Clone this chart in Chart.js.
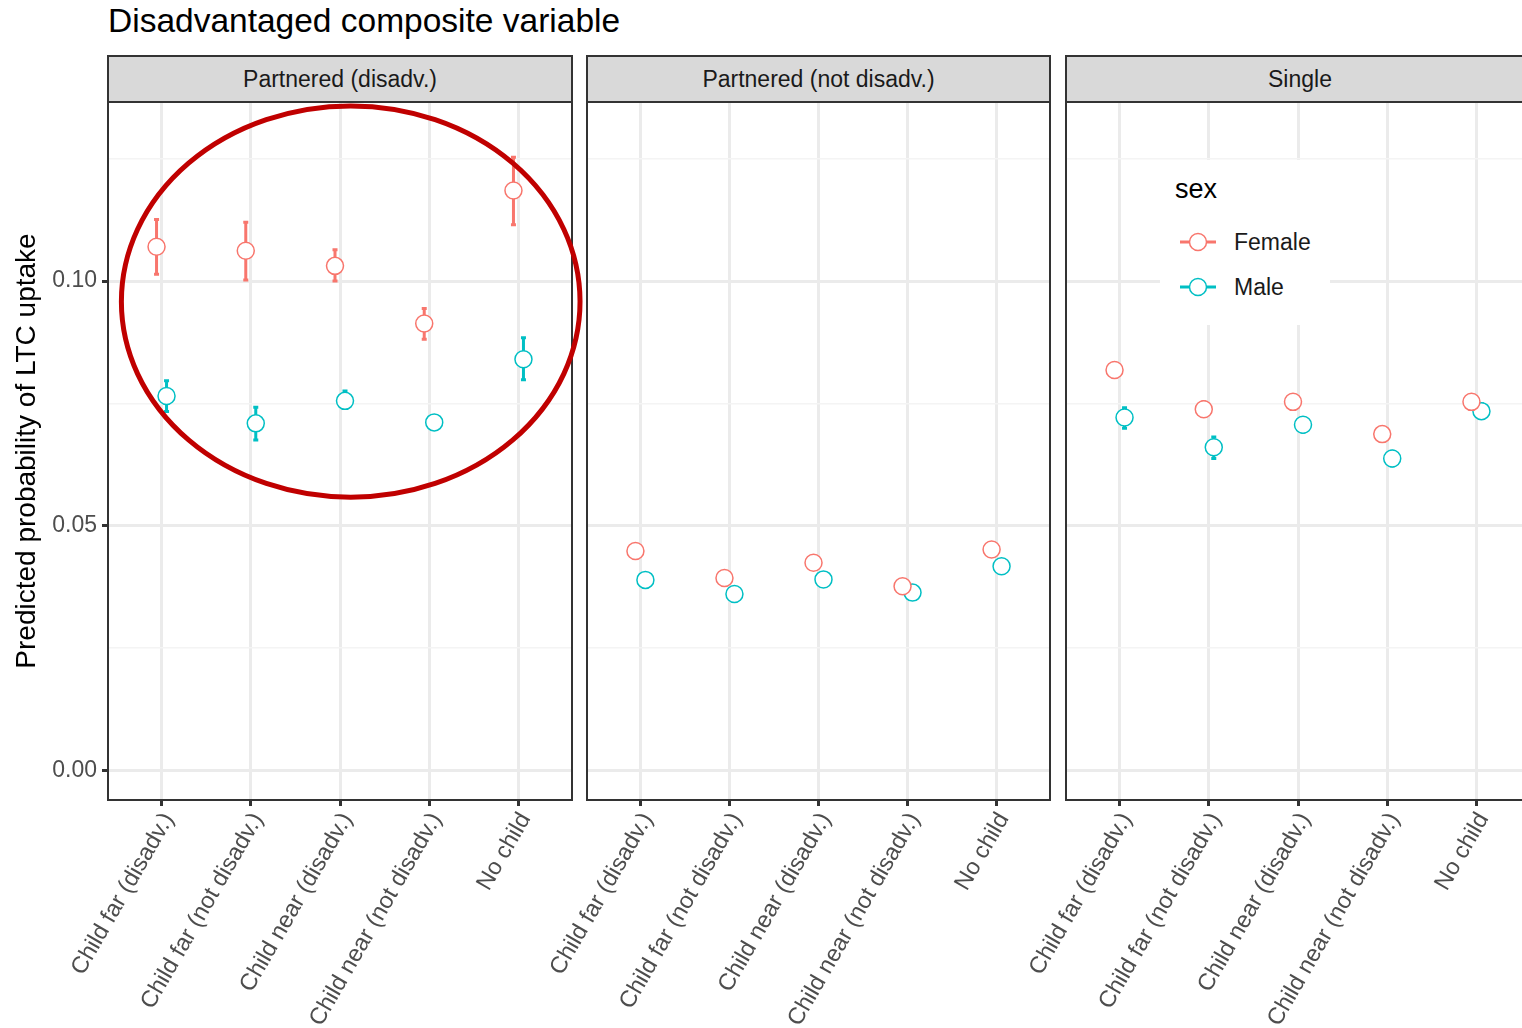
<!DOCTYPE html>
<html>
<head>
<meta charset="utf-8">
<script src="https://cdn.jsdelivr.net/npm/chart.js@4.4.1/dist/chart.umd.min.js"></script>
<style>
  body { margin: 0; width: 1522px; height: 1028px; overflow: hidden; background: #fff;
         position: relative; font-family: "Liberation Sans", Arial, sans-serif; }
  canvas { position: absolute; top: 0; }
  .title { position: absolute; left: 108px; top: 2px; font-size: 33.5px; color: #000; }
  .strip { position: absolute; top: 55px; height: 48px; box-sizing: border-box; background: #d9d9d9;
           border: 2px solid #333; font-size: 23px; color: #1a1a1a; text-align: center; line-height: 44px; }
  .legend { position: absolute; left: 1160px; top: 160px; width: 170px; height: 165px; background: #fff; z-index: 5; }
  .legend .head { position: absolute; left: 15px; top: 14px; font-size: 27px; color: #000; }
  .legend .item { position: absolute; left: 18px; height: 24px; font-size: 23px; color: #1a1a1a; }
  .legend .item svg { position: absolute; left: 0; top: 2px; }
  .legend .item span { position: absolute; left: 56px; top: 0; line-height: 24px; }
</style>
</head>
<body>
<div class="title">Disadvantaged composite variable</div>
<div class="strip" style="left:107px;width:466px">Partnered (disadv.)</div>
<div class="strip" style="left:586px;width:465px">Partnered (not disadv.)</div>
<div class="strip" style="left:1065px;width:470px">Single</div>

<canvas id="p1" width="590" height="1028" style="left:0"></canvas>
<canvas id="p2" width="520" height="1028" style="left:540px"></canvas>
<canvas id="p3" width="530" height="1028" style="left:1019px"></canvas>

<div class="legend">
  <div class="head">sex</div>
  <div class="item" style="top:70px">
    <svg width="40" height="20"><line x1="2" y1="10" x2="38" y2="10" stroke="#F8766D" stroke-width="3"/><circle cx="20" cy="10" r="8.5" fill="#fff" stroke="#F8766D" stroke-width="1.5"/></svg>
    <span>Female</span>
  </div>
  <div class="item" style="top:115px">
    <svg width="40" height="20"><line x1="2" y1="10" x2="38" y2="10" stroke="#00BFC4" stroke-width="3"/><circle cx="20" cy="10" r="8.5" fill="#fff" stroke="#00BFC4" stroke-width="1.5"/></svg>
    <span>Male</span>
  </div>
</div>

<script>
// categorie asse x
const categories = ['Child far (disadv.)', 'Child far (not disadv.)', 'Child near (disadv.)', 'Child near (not disadv.)', 'No child'];
const yTicks = [0, 0.025, 0.05, 0.075, 0.1, 0.125];

// Partnered (disadv.)
const femaleP1 = [0.1070, 0.1062, 0.1031, 0.0913, 0.1185];
const femaleP1Lo = [0.1014, 0.1002, 0.1000, 0.0881, 0.1115];
const femaleP1Hi = [0.1126, 0.1120, 0.1064, 0.0944, 0.1253];
const maleP1 = [0.0765, 0.0709, 0.0755, 0.0711, 0.0840];
const maleP1Lo = [0.0733, 0.0675, 0.0740, 0.0699, 0.0798];
const maleP1Hi = [0.0796, 0.0742, 0.0775, 0.0723, 0.0884];

// Partnered (not disadv.)
const femaleP2 = [0.0448, 0.0393, 0.0424, 0.0376, 0.0451];
const femaleP2Lo = [0.0437, 0.0382, 0.0413, 0.0365, 0.0440];
const femaleP2Hi = [0.0459, 0.0404, 0.0435, 0.0387, 0.0462];
const maleP2 = [0.0389, 0.0360, 0.0390, 0.0363, 0.0417];
const maleP2Lo = [0.0378, 0.0349, 0.0379, 0.0352, 0.0406];
const maleP2Hi = [0.0400, 0.0371, 0.0401, 0.0374, 0.0428];

// Single
const femaleP3 = [0.0818, 0.0738, 0.0753, 0.0687, 0.0753];
const femaleP3Lo = [0.0803, 0.0723, 0.0738, 0.0672, 0.0738];
const femaleP3Hi = [0.0833, 0.0753, 0.0768, 0.0702, 0.0768];
const maleP3 = [0.0721, 0.0660, 0.0706, 0.0637, 0.0734];
const maleP3Lo = [0.0699, 0.0637, 0.0691, 0.0622, 0.0719];
const maleP3Hi = [0.0741, 0.0681, 0.0721, 0.0652, 0.0749];

const FEMALE = '#F8766D';
const MALE = '#00BFC4';
const DODGE = 0.056;
const FONT = '"Liberation Sans", Arial, sans-serif';

// ellisse rossa (coordinate dati del primo pannello)
const ellipse = { x: 3.12, y: 0.0958, rx: 2.57, ry: 0.0400 };

const points = (vals, lo, hi, shift) =>
  vals.map((v, i) => ({ x: i + 1 + shift, y: v, lo: lo[i], hi: hi[i] }));

const isMajor = v => Math.round(v * 1000) % 50 === 0;

const errorBars = {
  id: 'errorBars',
  beforeDatasetsDraw(chart) {
    const { ctx, scales: { x, y } } = chart;
    ctx.save();
    chart.data.datasets.forEach(ds => {
      ctx.strokeStyle = ds.borderColor;
      ctx.lineWidth = 3;
      ds.data.forEach(p => {
        const px = x.getPixelForValue(p.x);
        const top = y.getPixelForValue(p.hi);
        const bot = y.getPixelForValue(p.lo);
        ctx.beginPath();
        ctx.moveTo(px, top); ctx.lineTo(px, bot);
        ctx.moveTo(px - 2.5, top); ctx.lineTo(px + 2.5, top);
        ctx.moveTo(px - 2.5, bot); ctx.lineTo(px + 2.5, bot);
        ctx.stroke();
      });
    });
    ctx.restore();
  }
};

const panelFrame = {
  id: 'panelFrame',
  afterDraw(chart) {
    const { ctx, chartArea: a } = chart;
    ctx.save();
    ctx.strokeStyle = '#333';
    ctx.lineWidth = 2;
    ctx.strokeRect(a.left, a.top, a.right - a.left, a.bottom - a.top);
    ctx.restore();
  }
};

const redEllipse = {
  id: 'redEllipse',
  afterDraw(chart) {
    const { ctx, scales: { x, y } } = chart;
    const cx = x.getPixelForValue(ellipse.x);
    const cy = y.getPixelForValue(ellipse.y);
    const rx = x.getPixelForValue(ellipse.x + ellipse.rx) - cx;
    const ry = cy - y.getPixelForValue(ellipse.y + ellipse.ry);
    ctx.save();
    ctx.strokeStyle = '#C00000';
    ctx.lineWidth = 5;
    ctx.beginPath();
    ctx.ellipse(cx, cy, rx, ry, 0, 0, Math.PI * 2);
    ctx.stroke();
    ctx.restore();
  }
};

function makePanel(id, female, male, opts) {
  const plugins = [errorBars, panelFrame];
  if (opts.ellipse) plugins.push(redEllipse);
  return new Chart(document.getElementById(id), {
    type: 'scatter',
    data: {
      datasets: [
        { label: 'Female', data: female, borderColor: FEMALE, backgroundColor: '#fff' },
        { label: 'Male', data: male, borderColor: MALE, backgroundColor: '#fff' },
      ],
    },
    options: {
      responsive: false,
      animation: false,
      events: [],
      layout: { padding: { top: 102, right: opts.padRight, bottom: 0, left: 0 } },
      elements: { point: { radius: 8.5, borderWidth: 1.5, pointStyle: 'circle' } },
      plugins: { legend: { display: false }, tooltip: { enabled: false } },
      scales: {
        x: {
          type: 'linear',
          min: 0.4,
          max: 5.6,
          afterBuildTicks: s => { s.ticks = categories.map((c, i) => ({ value: i + 1 })); },
          afterFit: s => { s.height = 228; s.paddingLeft = 0; s.paddingRight = 0; },
          border: { display: false },
          grid: { color: '#ebebeb', lineWidth: 3, tickColor: '#333', tickLength: 6 },
          ticks: {
            autoSkip: false,
            maxRotation: 60,
            minRotation: 60,
            padding: 2,
            labelOffset: 7,
            color: '#4d4d4d',
            font: { size: 23.5, family: FONT },
            callback: v => categories[Math.round(v) - 1],
          },
        },
        y: {
          type: 'linear',
          min: -0.0061,
          max: 0.1366,
          afterBuildTicks: s => { s.ticks = yTicks.map(v => ({ value: v })); },
          afterFit: s => { s.width = opts.left; s.paddingTop = 0; s.paddingBottom = 0; },
          border: { display: false },
          grid: {
            color: c => (isMajor(c.tick.value) ? '#ebebeb' : '#f4f4f4'),
            lineWidth: c => (isMajor(c.tick.value) ? 3 : 1.5),
            tickColor: c => (opts.yTicks && isMajor(c.tick.value) ? '#333' : 'rgba(0,0,0,0)'),
            tickLength: opts.yTicks ? 6 : 0,
          },
          ticks: {
            display: opts.yTicks,
            padding: 5,
            color: '#4d4d4d',
            font: { size: 23, family: FONT },
            callback: v => (isMajor(v) ? v.toFixed(2) : ''),
          },
          title: {
            display: opts.yTicks,
            text: 'Predicted probability of LTC uptake',
            color: '#000',
            padding: { top: 10, bottom: 0 },
            font: { size: 28, family: FONT },
          },
        },
      },
    },
    plugins,
  });
}

makePanel('p1', points(femaleP1, femaleP1Lo, femaleP1Hi, -DODGE), points(maleP1, maleP1Lo, maleP1Hi, DODGE),
  { left: 108, padRight: 18, yTicks: true, ellipse: true });
makePanel('p2', points(femaleP2, femaleP2Lo, femaleP2Hi, -DODGE), points(maleP2, maleP2Lo, maleP2Hi, DODGE),
  { left: 47, padRight: 10, yTicks: false });
makePanel('p3', points(femaleP3, femaleP3Lo, femaleP3Hi, -DODGE), points(maleP3, maleP3Lo, maleP3Hi, DODGE),
  { left: 47, padRight: 19, yTicks: false });
</script>
</body>
</html>
